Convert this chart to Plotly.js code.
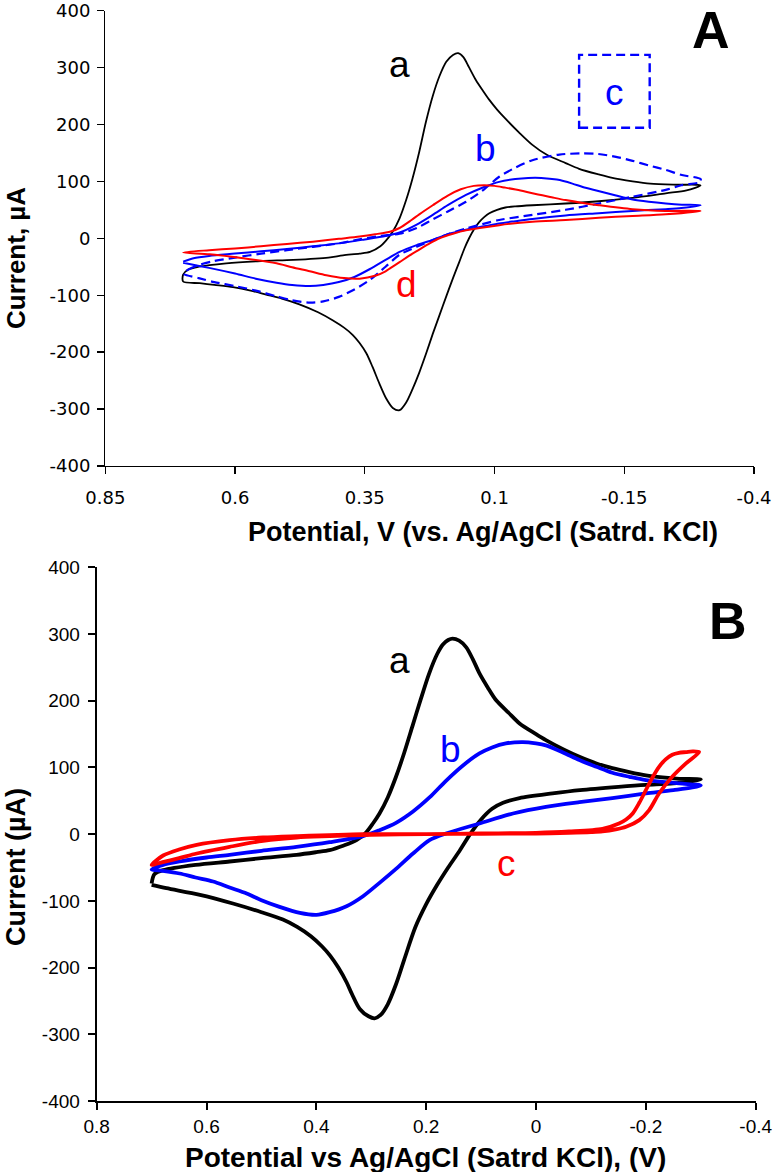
<!DOCTYPE html>
<html>
<head>
<meta charset="utf-8">
<script src="https://cdn.plot.ly/plotly-3.0.1.min.js"></script>
<style>
  html, body { margin: 0; padding: 0; background: #fff; }
  #chart { width: 773px; height: 1172px; }
</style>
</head>
<body>
<div id="chart"></div>
<script>
// ---------- Panel A : cyclic voltammograms (potential in V, current in µA) ----------
// each trace is one full cycle: sweep 0.7 V -> -0.3 V, then back to 0.7 V
const potA_a = [0.70, 0.70, 0.69, 0.67, 0.617, 0.55, 0.488, 0.42, 0.392, 0.36,
  0.34, 0.32, 0.31, 0.296, 0.283, 0.27, 0.258, 0.245, 0.232, 0.219,
  0.206, 0.193, 0.18, 0.17, 0.16, 0.149, 0.136, 0.123, 0.11, 0.095,
  0.079, 0.053, 0.027, 0.0, -0.037, -0.063, -0.101, -0.127, -0.166, -0.2,
  -0.25, -0.297,
  -0.27, -0.23, -0.166, -0.101, -0.037, 0.027, 0.06, 0.079, 0.095, 0.11,
  0.12, 0.13, 0.14, 0.149, 0.158, 0.168, 0.18, 0.193, 0.206, 0.219, 0.232,
  0.245, 0.258, 0.27, 0.283, 0.296, 0.309, 0.322, 0.335, 0.347, 0.36,
  0.373, 0.39, 0.412, 0.44, 0.476, 0.51, 0.54, 0.57, 0.604, 0.64, 0.668, 0.70];
const curA_a = [-76, -64, -55, -50, -44, -40, -38, -34, -30, -27,
  -24, -14, -5, 12, 35, 68, 105, 152, 205, 250,
  285, 310, 322, 325, 318, 300, 278, 260, 243, 226,
  210, 186, 164, 147, 132, 122, 112, 106, 100, 96,
  94, 93,
  84, 79, 71, 65, 61, 58, 56, 54, 50, 44,
  37, 28, 15, 0, -18, -42, -70, -102, -135, -168, -203,
  -236, -265, -288, -302, -298, -281, -255, -226, -202, -184,
  -170, -157, -144, -130, -116, -106, -99, -92, -86, -82, -79, -76];

const potA_b = [0.70, 0.68, 0.65, 0.60, 0.55, 0.50, 0.45, 0.40, 0.35, 0.31,
  0.283, 0.25, 0.219, 0.19, 0.155, 0.12, 0.091, 0.06, 0.035, 0.01,
  -0.02, -0.05, -0.07, -0.10, -0.134, -0.166, -0.197, -0.23, -0.261, -0.297,
  -0.26, -0.23, -0.166, -0.101, -0.037, 0.027, 0.06, 0.091, 0.12, 0.155,
  0.19, 0.219, 0.25, 0.283, 0.31, 0.34, 0.37, 0.40, 0.43, 0.456,
  0.49, 0.52, 0.56, 0.60, 0.65, 0.70];
const curA_b = [-41, -35, -31, -27, -23, -19, -14, -9, -2, 4,
  10, 24, 41, 58, 76, 90, 99, 104, 106, 106,
  103, 96, 90, 83, 75, 68, 64, 61, 59, 58,
  53, 51, 48, 44, 40, 34, 30, 26, 21, 15,
  7, -3, -12, -24, -38, -54, -68, -77, -82, -84,
  -82, -78, -71, -62, -52, -43];

const potA_c = [0.70, 0.69, 0.67, 0.64, 0.60, 0.55, 0.50, 0.45, 0.40, 0.36,
  0.32, 0.283, 0.25, 0.219, 0.19, 0.155, 0.12, 0.091, 0.06, 0.027,
  -0.025, -0.07, -0.10, -0.134, -0.166, -0.197, -0.23, -0.261, -0.297,
  -0.297, -0.26, -0.23, -0.166, -0.101, -0.037, 0.027, 0.091, 0.155, 0.19,
  0.219, 0.25, 0.283, 0.31, 0.34, 0.37, 0.40, 0.43, 0.456, 0.49,
  0.52, 0.56, 0.60, 0.64, 0.67, 0.70];
const curA_c = [-62, -55, -47, -40, -34, -27, -21, -15, -9, -2,
  4, 8, 18, 33, 47, 64, 86, 108, 124, 137,
  147, 149, 148, 143, 136, 128, 120, 111, 104,
  99, 93, 85, 73, 61, 50, 41, 32, 17, 7,
  -3, -15, -29, -50, -73, -90, -103, -111, -113, -109,
  -102, -92, -84, -77, -70, -62];

const potA_d = [0.70, 0.65, 0.60, 0.55, 0.50, 0.45, 0.40, 0.36, 0.33, 0.30,
  0.283, 0.26, 0.245, 0.219, 0.19, 0.165, 0.14, 0.12, 0.10, 0.08,
  0.05, 0.027, -0.01, -0.037, -0.07, -0.101, -0.166, -0.23, -0.297,
  -0.23, -0.166, -0.101, -0.037, 0.027, 0.091, 0.155, 0.18, 0.206, 0.225,
  0.245, 0.265, 0.283, 0.30, 0.31, 0.33, 0.36, 0.39, 0.424, 0.456,
  0.49, 0.52, 0.584, 0.649, 0.70];
const curA_d = [-25, -21, -18, -14, -10, -6, -1, 3, 7, 12,
  18, 32, 42, 58, 75, 86, 92, 93, 92, 89,
  84, 79, 72, 67, 62, 58, 51, 48, 48,
  42, 39, 36, 32, 29, 23, 14, 8, 0, -9,
  -20, -31, -42, -52, -58, -66, -71, -70, -65, -58,
  -51, -44, -35, -28, -25];

// ---------- Panel B ----------
const potB_a = [0.70, 0.695, 0.679, 0.62, 0.558, 0.50, 0.436, 0.40, 0.376, 0.35,
  0.327, 0.31, 0.297, 0.285, 0.27, 0.255, 0.24, 0.225, 0.21, 0.195,
  0.18, 0.17, 0.16, 0.152, 0.14, 0.127, 0.115, 0.103, 0.088, 0.073,
  0.05, 0.03, 0.0, -0.018, -0.05, -0.079, -0.11, -0.139, -0.17, -0.2,
  -0.23, -0.261, -0.30,
  -0.25, -0.2, -0.15, -0.08, -0.03, 0.03, 0.06, 0.08, 0.10, 0.12,
  0.14, 0.16, 0.18, 0.20, 0.22, 0.24, 0.255, 0.27, 0.283, 0.294,
  0.305, 0.321, 0.335, 0.345, 0.36, 0.375, 0.39, 0.41, 0.435, 0.461,
  0.50, 0.552, 0.612, 0.673, 0.70];
const curB_a = [-74, -60, -54, -46, -41, -36, -31, -27, -24, -17,
  -9, 2, 16, 31, 55, 86, 122, 162, 202, 240,
  270, 284, 291, 293, 290, 280, 262, 241, 220, 201,
  182, 166, 150, 141, 127, 116, 106, 99, 93, 88,
  85, 83, 82,
  76, 74, 71, 66, 61, 54, 47, 38, 22, 0,
  -26, -50, -76, -105, -140, -188, -225, -255, -271, -276,
  -273, -262, -240, -222, -200, -182, -168, -153, -139, -128,
  -117, -104, -91, -81, -76];

const potB_b = [0.70, 0.679, 0.649, 0.60, 0.558, 0.50, 0.436, 0.376, 0.315, 0.285,
  0.255, 0.224, 0.194, 0.164, 0.133, 0.103, 0.08, 0.055, 0.024, 0.0,
  -0.018, -0.05, -0.079, -0.11, -0.139, -0.17, -0.2, -0.261, -0.30,
  -0.25, -0.2, -0.139, -0.079, -0.018, 0.042, 0.103, 0.164, 0.194, 0.224,
  0.255, 0.285, 0.315, 0.345, 0.376, 0.40, 0.43, 0.467, 0.50, 0.527,
  0.558, 0.588, 0.62, 0.649, 0.68, 0.70];
const curB_b = [-53, -46, -41, -35, -31, -25, -19, -12, -3, 6,
  17, 34, 55, 80, 103, 121, 130, 136, 138, 136,
  133, 122, 111, 101, 92, 86, 81, 76, 73,
  66, 61, 54, 48, 41, 31, 16, 1, -9, -29,
  -52, -73, -93, -108, -117, -121, -118, -109, -99, -89,
  -80, -71, -65, -59, -55, -53];

const potB_c = [0.70, 0.68, 0.65, 0.618, 0.558, 0.497, 0.436, 0.376, 0.30, 0.20,
  0.10, 0.0, -0.06, -0.10, -0.121, -0.145, -0.164, -0.188, -0.206, -0.224,
  -0.248, -0.273, -0.297,
  -0.285, -0.273, -0.26, -0.248, -0.236, -0.224, -0.212, -0.2, -0.188, -0.176,
  -0.164, -0.151, -0.121, -0.06, 0.0, 0.1, 0.2, 0.315, 0.436, 0.497,
  0.558, 0.618, 0.65, 0.679, 0.70];
const curB_c = [-46, -42, -36, -29, -19, -10, -5, -3, -1, 0,
  0.5, 1, 2, 3, 4, 7, 11, 21, 36, 61,
  86, 106, 123,
  124, 123, 122, 119, 112, 101, 85, 66, 47, 31,
  22, 16, 8, 4, 2, 1, 0, 0, -3, -5,
  -9, -16, -23, -32, -46];

// ---------- axis ticks ----------
const ticksA_x = [0.85, 0.6, 0.35, 0.1, -0.15, -0.4];
const tickTextA_x = ['0.85', '0.6', '0.35', '0.1', '-0.15', '-0.4'];
const ticksB_x = [0.8, 0.6, 0.4, 0.2, 0, -0.2, -0.4];
const tickTextB_x = ['0.8', '0.6', '0.4', '0.2', '0', '-0.2', '-0.4'];
const ticksY = [-400, -300, -200, -100, 0, 100, 200, 300, 400];
const tickTextY = ['-400', '-300', '-200', '-100', '0', '100', '200', '300', '400'];

// ---------- drawing ----------
const BLACK = '#000000', BLUE = '#0000FF', RED = '#FF0000';
const W = 773, H = 1172;
const px = v => v / W;          // horizontal pixel -> paper fraction
const py = v => 1 - v / H;      // vertical pixel -> paper fraction

function cv(x, y, color, width, dash, xa, ya) {
  return {
    x: x, y: y, xaxis: xa, yaxis: ya, type: 'scatter', mode: 'lines',
    line: { color: color, width: width, dash: dash || 'solid', shape: 'spline', smoothing: 0.8 },
    hoverinfo: 'skip', showlegend: false
  };
}

const traces = [
  cv(potA_a, curA_a, BLACK, 1.8, null, 'x', 'y'),
  cv(potA_c, curA_c, BLUE, 2.2, '9px,5px', 'x', 'y'),
  cv(potA_b, curA_b, BLUE, 2.0, null, 'x', 'y'),
  cv(potA_d, curA_d, RED, 2.0, null, 'x', 'y'),
  cv(potB_a, curB_a, BLACK, 3.8, null, 'x2', 'y2'),
  cv(potB_b, curB_b, BLUE, 3.8, null, 'x2', 'y2'),
  cv(potB_c, curB_c, RED, 3.8, null, 'x2', 'y2')
];

const tickFontA = { family: '"DejaVu Sans", Lato, sans-serif', size: 18, color: '#000' };
const tickFontB = { family: '"Liberation Sans", Arial, sans-serif', size: 19, color: '#000' };

function axis(opts) {
  return Object.assign({
    showgrid: false, zeroline: false, showline: true, linecolor: '#000',
    ticks: 'outside', ticklen: 7, tickcolor: '#000', tickmode: 'array', fixedrange: true,
    ticklabeloverflow: 'allow'
  }, opts);
}

const layout = {
  width: W, height: H,
  margin: { l: 0, r: 0, t: 0, b: 0 },
  paper_bgcolor: '#fff', plot_bgcolor: '#fff',
  showlegend: false,
  xaxis: axis({ domain: [px(105.3), px(754)], range: [0.85, -0.4], anchor: 'y',
    tickvals: ticksA_x, ticktext: tickTextA_x, tickfont: tickFontA, linewidth: 1.3, tickwidth: 1.3,
    ticklabelstandoff: 8 }),
  yaxis: axis({ domain: [py(466), py(10.5)], range: [-400, 400], anchor: 'x',
    tickvals: ticksY, ticktext: tickTextY, tickfont: tickFontA, linewidth: 1.3, tickwidth: 1.3,
    ticklabelstandoff: 3 }),
  xaxis2: axis({ domain: [px(96.7), px(755.7)], range: [0.8, -0.4], anchor: 'y2',
    tickvals: ticksB_x, ticktext: tickTextB_x, tickfont: tickFontB, linewidth: 2, tickwidth: 2 }),
  yaxis2: axis({ domain: [py(1101), py(567.3)], range: [-400, 400], anchor: 'x2',
    tickvals: ticksY, ticktext: tickTextY, tickfont: tickFontB, linewidth: 2, tickwidth: 2,
    ticklabelstandoff: 4 }),
  shapes: [
    { type: 'rect', xref: 'x', yref: 'y', x0: -0.063, x1: -0.199, y0: 194, y1: 322,
      line: { color: BLUE, width: 2.4, dash: '9px,5px' }, fillcolor: 'rgba(0,0,0,0)' }
  ],
  annotations: []
};

const ARIAL = '"Liberation Sans", Arial, sans-serif';
function label(text, x, y, color, size, xref, yref) {
  return { text: text, x: x, y: y, xref: xref, yref: yref, showarrow: false,
    xanchor: 'center', yanchor: 'middle', font: { family: ARIAL, size: size, color: color } };
}
layout.annotations.push(
  label('a', 0.283, 305, BLACK, 37, 'x', 'y'),
  label('b', 0.118, 157, BLUE, 37, 'x', 'y'),
  label('c', -0.132, 256, BLUE, 37, 'x', 'y'),
  label('d', 0.270, -82, RED, 37, 'x', 'y'),
  label('<b>A</b>', -0.317, 366, BLACK, 52, 'x', 'y'),
  label('a', 0.2485, 261, BLACK, 37, 'x2', 'y2'),
  label('b', 0.156, 127, BLUE, 37, 'x2', 'y2'),
  label('c', 0.054, -44, RED, 37, 'x2', 'y2'),
  label('<b>B</b>', -0.35, 319, BLACK, 52, 'x2', 'y2')
);

// axis titles
function title(text, x, y, size, angle) {
  return { text: '<b>' + text + '</b>', x: x, y: y, xref: 'paper', yref: 'paper', showarrow: false,
    xanchor: 'center', yanchor: 'middle', textangle: angle || 0,
    font: { family: ARIAL, size: size, color: '#000' } };
}
layout.annotations.push(
  title('Potential, V (vs. Ag/AgCl (Satrd. KCl)', px(482.5), py(532), 27),
  title('Current, µA', px(16), py(258), 26, -90),
  title('Potential vs Ag/AgCl (Satrd KCl), (V)', px(425.8), py(1157), 28),
  title('Current (µA)', px(16), py(867), 27, -90)
);

Plotly.newPlot('chart', traces, layout, { staticPlot: true, displayModeBar: false });
</script>
</body>
</html>
